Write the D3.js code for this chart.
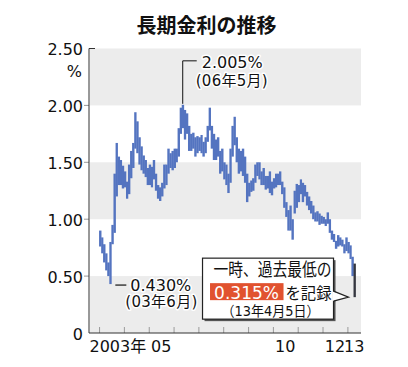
<!DOCTYPE html>
<html><head><meta charset="utf-8">
<script src="https://cdn.jsdelivr.net/npm/d3@7"></script>
<style>html,body{margin:0;padding:0;background:#fff;} svg{display:block}</style>
</head><body>
<svg id="chart" width="408" height="367"></svg>
<script>
// ---- data (monthly low / high of the 10-year JGB yield, %) ----
const months = [
 "2003-01","2003-02","2003-03","2003-04","2003-05","2003-06","2003-07","2003-08","2003-09","2003-10","2003-11","2003-12",
 "2004-01","2004-02","2004-03","2004-04","2004-05","2004-06","2004-07","2004-08","2004-09","2004-10","2004-11","2004-12",
 "2005-01","2005-02","2005-03","2005-04","2005-05","2005-06","2005-07","2005-08","2005-09","2005-10","2005-11","2005-12",
 "2006-01","2006-02","2006-03","2006-04","2006-05","2006-06","2006-07","2006-08","2006-09","2006-10","2006-11","2006-12",
 "2007-01","2007-02","2007-03","2007-04","2007-05","2007-06","2007-07","2007-08","2007-09","2007-10","2007-11","2007-12",
 "2008-01","2008-02","2008-03","2008-04","2008-05","2008-06","2008-07","2008-08","2008-09","2008-10","2008-11","2008-12",
 "2009-01","2009-02","2009-03","2009-04","2009-05","2009-06","2009-07","2009-08","2009-09","2009-10","2009-11","2009-12",
 "2010-01","2010-02","2010-03","2010-04","2010-05","2010-06","2010-07","2010-08","2010-09","2010-10","2010-11","2010-12",
 "2011-01","2011-02","2011-03","2011-04","2011-05","2011-06","2011-07","2011-08","2011-09","2011-10","2011-11","2011-12",
 "2012-01","2012-02","2012-03","2012-04","2012-05","2012-06","2012-07","2012-08","2012-09","2012-10","2012-11","2012-12",
 "2013-01","2013-02","2013-03","2013-04"
];
const lows = [
 0.76,0.70,0.62,0.55,0.50,0.43,0.78,0.88,1.20,1.30,1.30,1.27,
 1.28,1.18,1.22,1.36,1.45,1.62,1.58,1.48,1.43,1.40,1.37,1.30,
 1.30,1.28,1.35,1.25,1.18,1.16,1.20,1.27,1.30,1.40,1.45,1.43,
 1.45,1.50,1.55,1.75,1.80,1.70,1.75,1.60,1.60,1.62,1.55,1.58,
 1.60,1.58,1.55,1.58,1.68,1.78,1.62,1.52,1.52,1.55,1.40,1.42,
 1.35,1.30,1.23,1.32,1.55,1.65,1.50,1.40,1.42,1.38,1.32,1.15,
 1.20,1.24,1.25,1.32,1.38,1.35,1.30,1.30,1.26,1.27,1.23,1.21,
 1.27,1.28,1.30,1.30,1.22,1.10,1.02,0.90,0.90,0.82,1.05,1.10,
 1.15,1.22,1.15,1.20,1.12,1.08,1.05,1.00,0.98,0.98,0.95,0.96,
 0.96,0.94,0.96,0.88,0.82,0.80,0.74,0.76,0.77,0.76,0.70,0.72,
 0.70,0.65,0.50,0.315
];
const highs = [
 0.90,0.84,0.78,0.70,0.62,0.80,0.95,1.40,1.67,1.55,1.52,1.47,
 1.42,1.33,1.48,1.60,1.67,1.94,1.86,1.72,1.64,1.56,1.52,1.45,
 1.48,1.46,1.52,1.40,1.30,1.28,1.32,1.48,1.48,1.62,1.58,1.60,
 1.62,1.62,1.80,1.98,2.005,1.96,1.93,1.82,1.75,1.76,1.72,1.73,
 1.72,1.74,1.68,1.72,1.82,1.98,1.82,1.75,1.70,1.72,1.60,1.62,
 1.50,1.48,1.40,1.62,1.82,1.90,1.72,1.62,1.60,1.62,1.55,1.40,
 1.32,1.34,1.36,1.48,1.50,1.50,1.42,1.45,1.38,1.38,1.42,1.33,
 1.36,1.40,1.40,1.42,1.33,1.28,1.15,1.08,1.12,1.00,1.25,1.31,
 1.30,1.35,1.32,1.30,1.24,1.20,1.16,1.12,1.06,1.07,1.05,1.03,
 1.02,1.00,1.06,1.00,0.90,0.87,0.81,0.86,0.84,0.82,0.78,0.84,
 0.80,0.77,0.67,0.61
];
const yTickValues = [0, 0.5, 1, 1.5, 2, 2.5];
const yTickLabels = ["0", "0.50", "1.00", "1.50", "2.00", "2.50"];
const bandRanges = [[0, 0.5], [1, 1.5], [2, 2.5]];
const yearTicks = [2003, 2004, 2005, 2006, 2007, 2008, 2009, 2010, 2011, 2012, 2013];
const xLabelYears = [2003, 2005, 2010, 2012, 2013];
const xLabels = ["2003年", "05", "10", "12", "13"];
const recordMonth = "2013-04";
const peakNote = { month: "2006-05", value: 2.005, label: "2.005%", sub: "(06年5月)" };
const lowNote = { month: "2003-06", value: 0.43, label: "0.430%", sub: "(03年6月)" };
const recordNote = { value: 0.315, line1: "一時、過去最低の", badge: "0.315%", tail: "を記録", sub: "（13年4月5日）" };
const titleText = "長期金利の推移";

// ---- chart ----
const svg = d3.select("#chart");
const parse = d3.timeParse("%Y-%m");
const dates = months.map(parse);
const data = months.map((m, i) => ({ m, d: dates[i], lo: lows[i], hi: highs[i] }));

const x = d3.scaleTime().domain([new Date(2002, 7, 6), new Date(2013, 6, 20)]).range([89, 361]);
const y = d3.scaleLinear().domain([0, 2.5]).range([333, 48.5]);
const [x0, x1] = x.range();

const NUM = "'DejaVu Sans','Noto Sans CJK JP',sans-serif";
const JP = "'Noto Sans CJK JP',sans-serif";

// title
svg.append("text").attr("x", 206.5).attr("y", 33).attr("text-anchor", "middle")
  .attr("font-family", JP).attr("font-weight", "bold").attr("font-size", 20).attr("fill", "#111")
  .text(titleText);

// bands
svg.append("g").selectAll("rect").data(bandRanges).join("rect")
  .attr("x", x0 + 1).attr("width", x1 - x0 - 1)
  .attr("y", d => y(d[1])).attr("height", d => y(d[0]) - y(d[1]))
  .attr("fill", "#ececec");

// year ticks (inside, upward)
const xAxis = d3.axisBottom(x).tickValues(yearTicks.map(yr => new Date(yr, 0, 1)))
  .tickSize(-6).tickFormat("");
const gx = svg.append("g").attr("transform", `translate(0,${y(0)})`).call(xAxis);
gx.select(".domain").remove();
gx.selectAll(".tick line").attr("stroke", "#9a9a9a");

// y ticks
const gy = svg.append("g");
gy.selectAll("line").data(yTickValues.filter(v => v > 0 && v < 2.5)).join("line")
  .attr("x1", x0 - 5).attr("x2", x0).attr("y1", d => y(d)).attr("y2", d => y(d))
  .attr("stroke", "#9a9a9a");
gy.append("line").attr("x1", x0).attr("x2", x0 + 6).attr("y1", y(2.5)).attr("y2", y(2.5))
  .attr("stroke", "#333");
gy.selectAll("text").data(yTickValues).join("text")
  .attr("x", 83).attr("y", d => y(d) + 6.5).attr("text-anchor", "end")
  .attr("font-family", NUM).attr("font-size", 16).attr("fill", "#111")
  .text((d, i) => yTickLabels[i]);
svg.append("text").attr("x", 82).attr("y", y(2.5) + 28).attr("text-anchor", "end")
  .attr("font-family", NUM).attr("font-size", 16).attr("fill", "#111").text("%");

// axis lines
svg.append("line").attr("x1", x0).attr("x2", x0).attr("y1", y(2.5)).attr("y2", y(0)).attr("stroke", "#333");
svg.append("line").attr("x1", x0).attr("x2", x1).attr("y1", y(0)).attr("y2", y(0)).attr("stroke", "#333");

// x labels centred in each year interval
svg.append("g").selectAll("text").data(xLabelYears).join("text")
  .attr("x", (yr, i) => {
    const a = x(new Date(yr, 0, 1));
    const b = Math.min(x(new Date(yr + 1, 0, 1)), x1);
    const c = (a + b) / 2;
    return i === 0 ? c - 22 : c;
  })
  .attr("y", 352)
  .attr("text-anchor", (yr, i) => i === 0 ? "start" : "middle")
  .attr("font-family", NUM).attr("font-size", 16).attr("fill", "#111")
  .text((yr, i) => xLabels[i]);

// bars
const nextMonth = d => d3.timeMonth.offset(d, 1);
svg.append("g").selectAll("rect").data(data).join("rect")
  .attr("x", d => x(d.d))
  .attr("width", d => x(nextMonth(d.d)) - x(d.d) + 0.3)
  .attr("y", d => y(d.hi))
  .attr("height", d => Math.max(1, y(d.lo) - y(d.hi)))
  .attr("fill", d => d.m === recordMonth ? "#34363f" : "#5474c0");

// halo helper
function halo(sel) {
  return sel.attr("stroke", "#fff").attr("stroke-width", 3).attr("stroke-linejoin", "round")
    .attr("paint-order", "stroke");
}

// peak annotation
{
  const d = data.find(e => e.m === peakNote.month);
  const px = x(d.d) + 1;
  const py = y(peakNote.value);
  svg.append("path").attr("d", `M${px},${py - 1}V${py - 44}H${px + 14}`)
    .attr("fill", "none").attr("stroke", "#111").attr("stroke-width", 1);
  halo(svg.append("text").attr("x", px + 19).attr("y", py - 37)
    .attr("font-family", NUM).attr("font-size", 16).attr("fill", "#111").text(peakNote.label));
  halo(svg.append("text").attr("x", px + 13).attr("y", py - 19)
    .attr("font-family", NUM).attr("font-size", 15).attr("fill", "#111")
    .attr("textLength", 72).attr("lengthAdjust", "spacing").text(peakNote.sub));
}

// low annotation
{
  const d = data.find(e => e.m === lowNote.month);
  const lx = x(d.d) + 3;
  const ly = y(lowNote.value);
  svg.append("line").attr("x1", lx + 3).attr("x2", lx + 14).attr("y1", ly + 1).attr("y2", ly + 1)
    .attr("stroke", "#111").attr("stroke-width", 1.2);
  halo(svg.append("text").attr("x", lx + 18).attr("y", ly + 6.5)
    .attr("font-family", NUM).attr("font-size", 16).attr("fill", "#111").text(lowNote.label));
  halo(svg.append("text").attr("x", lx + 13).attr("y", ly + 23)
    .attr("font-family", NUM).attr("font-size", 15).attr("fill", "#111")
    .attr("textLength", 72).attr("lengthAdjust", "spacing").text(lowNote.sub));
}

// record callout
{
  const d = data.find(e => e.m === recordMonth);
  const tipX = x(d.d) - 5;
  const tipY = y(recordNote.value);
  const bx = tipX - 146, by = tipY - 39, bw = 131, bh = 61;
  const g = svg.append("g");
  g.append("rect").attr("x", bx + 2).attr("y", by + 2).attr("width", bw).attr("height", bh).attr("fill", "#555");
  g.append("rect").attr("x", bx).attr("y", by).attr("width", bw).attr("height", bh)
    .attr("fill", "#fff").attr("stroke", "#222").attr("stroke-width", 1.2);
  g.append("polygon").attr("points", `${bx + bw - 1},${tipY - 6} ${tipX},${tipY} ${bx + bw - 1},${tipY + 4}`)
    .attr("fill", "#fff");
  g.append("polyline").attr("points", `${bx + bw},${tipY - 6} ${tipX},${tipY} ${bx + bw},${tipY + 4}`)
    .attr("fill", "none").attr("stroke", "#222").attr("stroke-width", 1.2);
  g.append("text").attr("x", bx + 11).attr("y", by + 18)
    .attr("font-family", JP).attr("font-size", 18).attr("fill", "#111")
    .attr("textLength", 118).attr("lengthAdjust", "spacingAndGlyphs").text(recordNote.line1);
  g.append("rect").attr("x", bx + 7.5).attr("y", by + 25).attr("width", 73.5).attr("height", 17)
    .attr("fill", "#e1522f");
  g.append("text").attr("x", bx + 44).attr("y", by + 40.5).attr("text-anchor", "middle")
    .attr("font-family", NUM).attr("font-size", 17).attr("fill", "#fff").text(recordNote.badge);
  g.append("text").attr("x", bx + 83).attr("y", by + 40.5)
    .attr("font-family", JP).attr("font-size", 16).attr("fill", "#111")
    .attr("textLength", 46).attr("lengthAdjust", "spacingAndGlyphs").text(recordNote.tail);
  g.append("text").attr("x", bx + 19).attr("y", by + 57.5)
    .attr("font-family", NUM).attr("font-size", 14).attr("fill", "#111")
    .attr("textLength", 98).attr("lengthAdjust", "spacingAndGlyphs").text(recordNote.sub);
}
</script>
</body></html>
